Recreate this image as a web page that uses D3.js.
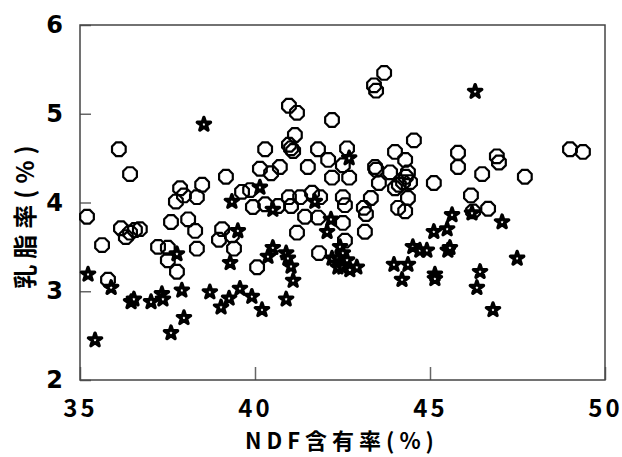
<!DOCTYPE html>
<html>
<head>
<meta charset="utf-8">
<script src="https://cdn.jsdelivr.net/npm/d3@7/dist/d3.min.js"></script>
<style>
  html, body { margin: 0; padding: 0; background: #fff; }
  svg { display: block; }
</style>
</head>
<body>
<div id="chart"></div>
<script>
// NDF content vs milk fat: two groups, open octagons and stars.

const circleX = [35.20, 35.63, 35.80, 36.11, 36.43, 36.17, 36.31, 36.43, 36.57, 36.71,
  37.23, 37.51, 37.51, 37.77, 37.60, 37.86, 37.74, 37.97, 38.34, 38.49,
  38.09, 38.29, 38.34, 39.17, 39.06, 38.97, 39.34, 39.40, 39.63, 39.86,
  39.94, 40.06, 40.14, 40.29, 40.46, 40.71, 40.29, 40.66, 40.97, 41.03,
  41.29, 41.43, 41.63, 41.80, 41.86, 41.20, 40.97, 41.20, 41.14, 40.97,
  41.03, 41.09, 41.51, 41.80, 42.09, 42.20, 42.20, 42.63, 42.51, 42.69,
  42.51, 42.57, 42.51, 42.57, 41.83, 43.11, 43.17, 43.31, 43.14, 43.40,
  43.46, 43.69, 43.43, 43.46, 43.54, 43.86, 44.00, 44.29, 44.54, 44.37,
  44.31, 44.23, 44.43, 44.11, 44.00, 44.37, 44.09, 44.29, 45.11, 45.80,
  45.80, 46.49, 46.91, 46.97, 47.71, 46.17, 46.66, 46.23, 49.00, 49.37];
const circleY = [3.84, 3.52, 3.13, 4.60, 4.32, 3.71, 3.61, 3.66, 3.69, 3.70,
  3.50, 3.49, 3.35, 3.22, 3.78, 4.16, 4.01, 4.08, 4.06, 4.20,
  3.81, 3.68, 3.48, 4.29, 3.70, 3.58, 3.63, 3.48, 4.12, 4.14,
  3.95, 3.27, 4.38, 4.60, 4.33, 4.40, 3.98, 3.96, 4.06, 3.96,
  4.06, 3.84, 4.11, 3.83, 4.06, 3.66, 5.09, 5.01, 4.76, 4.65,
  4.61, 4.58, 4.40, 4.60, 4.48, 4.93, 4.28, 4.61, 4.42, 4.28,
  4.06, 3.97, 3.77, 3.57, 3.43, 3.94, 3.87, 4.05, 3.67, 5.32,
  5.26, 5.46, 4.40, 4.37, 4.22, 4.34, 4.57, 4.48, 4.70, 4.34,
  4.29, 4.23, 4.23, 4.20, 4.16, 4.05, 3.94, 3.90, 4.22, 4.56,
  4.40, 4.32, 4.52, 4.45, 4.29, 4.08, 3.93, 3.90, 4.60, 4.57];

const starX = [38.54, 35.23, 35.43, 35.89, 36.46, 36.54, 37.03, 37.34, 37.37, 37.60,
  37.97, 37.91, 37.77, 38.71, 39.03, 39.26, 39.57, 39.91, 39.29, 39.34,
  39.51, 40.14, 40.51, 40.51, 40.37, 40.89, 40.94, 41.03, 41.09, 40.89,
  40.20, 41.71, 42.17, 42.06, 42.69, 42.43, 42.20, 42.37, 42.51, 42.63,
  42.37, 42.51, 42.71, 42.91, 43.97, 44.37, 44.20, 44.51, 44.71, 44.91,
  45.63, 45.11, 45.49, 45.51, 45.57, 45.14, 45.14, 46.43, 46.34, 47.06,
  47.49, 46.80, 46.20, 46.29];
const starY = [4.88, 3.19, 2.45, 3.04, 2.88, 2.91, 2.88, 2.97, 2.91, 2.53,
  2.70, 3.01, 3.42, 2.99, 2.82, 2.92, 3.03, 2.94, 3.32, 4.01,
  3.68, 4.17, 3.92, 3.49, 3.39, 3.43, 3.37, 3.28, 3.12, 2.91,
  2.79, 4.01, 3.81, 3.67, 4.50, 3.50, 3.37, 3.37, 3.43, 3.35,
  3.27, 3.27, 3.24, 3.27, 3.30, 3.30, 3.13, 3.50, 3.46, 3.46,
  3.86, 3.67, 3.70, 3.46, 3.49, 3.19, 3.14, 3.22, 3.04, 3.78,
  3.37, 2.79, 3.88, 5.25];

const xTicks = [35, 40, 45, 50];
const yTicks = [2, 3, 4, 5, 6];
const xTitle = "NDF含有率(%)";
const yTitle = "乳脂率(%)";

const width = 622, height = 457;
const m = { top: 25, right: 17, bottom: 77, left: 80 };

const svg = d3.select("#chart").append("svg")
  .attr("width", width).attr("height", height);

const x = d3.scaleLinear().domain([35, 50]).range([m.left, width - m.right]);
const y = d3.scaleLinear().domain([2, 6]).range([height - m.bottom, m.top]);

// regular octagon, flat on top
const octagon = {
  draw(ctx, size) {
    const r = Math.sqrt(size / (2 * Math.SQRT2));
    for (let i = 0; i < 8; i++) {
      const a = Math.PI / 8 + i * Math.PI / 4;
      const px = r * Math.cos(a), py = r * Math.sin(a);
      if (i === 0) ctx.moveTo(px, py); else ctx.lineTo(px, py);
    }
    ctx.closePath();
  }
};

// axes with inward ticks
svg.append("g")
  .attr("transform", `translate(${m.left},0)`)
  .call(d3.axisLeft(y).tickValues(yTicks).tickFormat(d3.format("d")).tickSize(-11).tickPadding(17))
  .call((g) => g.select(".domain").remove())
  .call((g) => g.selectAll("line").attr("stroke", "#666").attr("stroke-width", 1.5))
  .selectAll("text")
  .attr("fill", "#000")
  .style("font-family", "DejaVu Sans, sans-serif")
  .style("font-weight", "bold")
  .style("font-size", "24px");

svg.append("g")
  .attr("transform", `translate(0,${height - m.bottom})`)
  .call(d3.axisBottom(x).tickValues(xTicks).tickSize(-13).tickPadding(20))
  .call((g) => g.select(".domain").remove())
  .call((g) => g.selectAll("line").attr("stroke", "#666").attr("stroke-width", 1.5))
  .selectAll("text")
  .attr("fill", "#000")
  .style("font-family", "Noto Sans CJK JP, sans-serif")
  .style("font-weight", "bold")
  .style("font-size", "24px")
  .style("letter-spacing", "3px");

// frame
svg.append("rect")
  .attr("x", m.left).attr("y", m.top)
  .attr("width", width - m.left - m.right)
  .attr("height", height - m.top - m.bottom)
  .attr("fill", "none").attr("stroke", "#444").attr("stroke-width", 1.5);

// circles
svg.append("g").selectAll("path")
  .data(d3.range(circleX.length))
  .join("path")
  .attr("transform", (i) => `translate(${x(circleX[i])},${y(circleY[i])})`)
  .attr("d", d3.symbol(octagon, 155))
  .attr("fill", "none").attr("stroke", "#000").attr("stroke-width", 2.2);

// stars
svg.append("g").selectAll("path")
  .data(d3.range(starX.length))
  .join("path")
  .attr("transform", (i) => `translate(${x(starX[i])},${y(starY[i])})`)
  .attr("d", d3.symbol(d3.symbolStar, 54))
  .attr("fill", "#fff").attr("stroke", "#000").attr("stroke-width", 3.4)
  .attr("stroke-linejoin", "round");

// titles
svg.append("text")
  .attr("x", 342).attr("y", 449)
  .attr("text-anchor", "middle")
  .style("font-family", "Noto Sans CJK JP, sans-serif")
  .style("font-weight", "bold").style("font-size", "22px")
  .style("letter-spacing", "5px")
  .text(xTitle);

svg.append("text")
  .attr("transform", "translate(34,214) rotate(-90)")
  .attr("text-anchor", "middle")
  .style("font-family", "Noto Sans CJK JP, sans-serif")
  .style("font-weight", "bold").style("font-size", "24px")
  .style("letter-spacing", "6px")
  .text(yTitle);
</script>
</body>
</html>
